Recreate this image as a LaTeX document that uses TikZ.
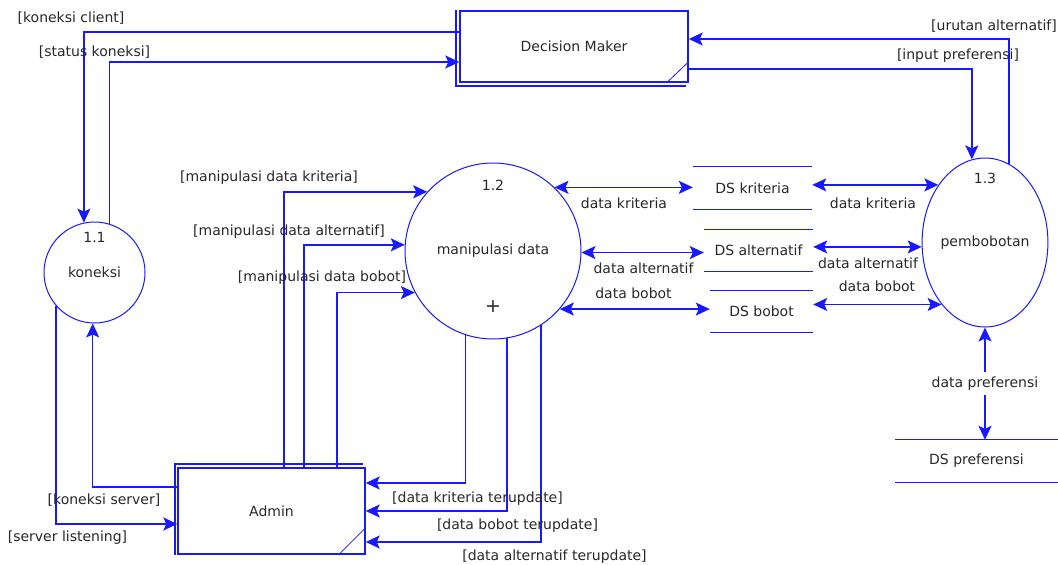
\documentclass[tikz,border=0pt]{standalone}
\usepackage{fontspec}
\setmainfont{DejaVu Sans}
\usetikzlibrary{shapes.geometric,arrows.meta,positioning,calc}
\definecolor{flowblue}{RGB}{25,25,255}
\definecolor{labelgray}{RGB}{40,40,40}
\tikzset{
    entity/.style={rectangle, draw=flowblue, line width=1.4pt, inner sep=0pt},
    process/.style={circle, draw=flowblue, line width=1pt, inner sep=0pt},
    processE/.style={ellipse, draw=flowblue, line width=1pt, inner sep=0pt},
    store/.style={rectangle, minimum height=42pt, inner sep=0pt},
    dfdline/.style={draw=flowblue, line width=1.3pt},
    outerline/.style={draw=flowblue, line width=2.2pt},
    corner/.style={draw=flowblue, line width=0.8pt},
    flow/.style={draw=flowblue, line width=1.5pt, -{Stealth[length=14pt,width=13pt,inset=3pt]}},
    bflow/.style={draw=flowblue, line width=1.5pt, {Stealth[length=14pt,width=13pt,inset=3pt]}-{Stealth[length=14pt,width=13pt,inset=3pt]}},
    flowlabel/.style={inner sep=0pt},
}

\begin{document}
\begin{tikzpicture}[x=1pt,y=-1pt, every node/.style={font=\fontsize{14}{16}\selectfont, text=labelgray}]
    \useasboundingbox (0,0) rectangle (1058,565);

    % external entities
    \node[entity, minimum width=228pt, minimum height=71pt] (dm) at (574,46.5) {Decision Maker};
    \draw[outerline] ([xshift=-3.5pt]dm.north west) -- ([xshift=-3.5pt,yshift=-3pt]dm.south west) -- ([xshift=-3pt,yshift=-3pt]dm.south east);
    \draw[corner] ([yshift=21pt]dm.south east) -- ([xshift=-22pt]dm.south east);
    \node[entity, minimum width=187pt, minimum height=86pt] (adm) at (271.5,511) {Admin};
    \draw[outerline] ([xshift=-2pt]adm.south west) -- ([xshift=-2pt,yshift=3.5pt]adm.north west) -- ([xshift=-3pt,yshift=3.5pt]adm.north east);
    \draw[corner] ([yshift=27pt]adm.south east) -- ([xshift=-27pt]adm.south east);

    % processes
    \node[process, minimum size=101pt] (kn) at (94.5,272.5) {koneksi};
    \node (kn-id) at ([yshift=35.5pt]kn.center) {1.1};
    \node[process, minimum size=176pt] (md) at (493,251) {manipulasi data};
    \node (md-id) at ([yshift=66pt]md.center) {1.2};
    \node[font=\fontsize{19}{20}\selectfont] (md-plus) at ([yshift=-56pt]md.center) {+};
    \node[processE, minimum width=120pt, minimum height=169pt] (pb) at (985,242.5) {pembobotan};
    \node (pb-id) at ([yshift=64.5pt]pb.center) {1.3};

    % data stores
    \node[store, minimum width=119pt] (dsk) at (752.5,188) {DS kriteria};
    \node[store, minimum width=109pt] (dsa) at (758.5,250.5) {DS alternatif};
    \node[store, minimum width=103pt] (dsb) at (761.5,311.5) {DS bobot};
    \node[store, minimum width=163pt] (dsp) at (976.5,461) {DS preferensi};
    \foreach \s in {dsk,dsa,dsb,dsp}
        \draw[dfdline, line width=1.1pt] (\s.north west) -- (\s.north east) (\s.south west) -- (\s.south east);

    % decision maker <-> koneksi
    \draw[flow] ([yshift=14.5pt]dm.west) -| (kn.102);
    \draw[flow] (kn.73) |- ([yshift=-15.5pt]dm.west);
    \node[flowlabel] (lbl-kc) at (71,18) {[koneksi client]};
    \node[flowlabel] (lbl-sk) at (94.5,52) {[status koneksi]};

    % admin <-> koneksi
    \draw[flow] ([yshift=24pt]adm.west) -| (kn.268);
    \draw[flow] (kn.221) |- ([yshift=-13pt]adm.west);
    \node[flowlabel] (lbl-ks) at (104,500) {[koneksi server]};
    \node[flowlabel] (lbl-sl) at (67.5,538) {[server listening]};

    % admin -> manipulasi data
    \draw[flow] ([xshift=12.5pt]adm.north) |- (md.138);
    \draw[flow] ([xshift=32.5pt]adm.north) |- (md.176);
    \draw[flow] ([xshift=65.5pt]adm.north) |- (md.208);
    \node[flowlabel] (lbl-mk) at (269,178) {[manipulasi data kriteria]};
    \node[flowlabel] (lbl-ma) at (289,232) {[manipulasi data alternatif]};
    \node[flowlabel] (lbl-mb) at (322,278) {[manipulasi data bobot]};

    % manipulasi data -> admin
    \draw[flow] (md.252) |- ([yshift=28pt]adm.east);
    \draw[flow] (md.279) |- (adm.east);
    \draw[flow] (md.303) |- ([yshift=-31pt]adm.east);
    \node[flowlabel] (lbl-kt) at (477.5,499) {[data kriteria terupdate]};
    \node[flowlabel] (lbl-bt) at (517.5,526) {[data bobot terupdate]};
    \node[flowlabel] (lbl-at) at (554.5,557) {[data alternatif terupdate]};

    % manipulasi data <-> stores
    \draw[bflow] (md.46) -- (md.46 -| dsk.west);
    \draw[bflow] (md.359) -- (md.359 -| dsa.west);
    \draw[bflow] (md.319) -- (md.319 -| dsb.west);
    \node[flowlabel] (lbl-dk1) at (624,203) {data kriteria};
    \node[flowlabel] (lbl-da1) at (643.5,268) {data alternatif};
    \node[flowlabel] (lbl-db1) at (633.5,293) {data bobot};

    % stores <-> pembobotan
    \draw[bflow] (pb.129 -| dsk.east) -- (pb.129);
    \draw[bflow] (pb.184 -| dsa.east) -- (pb.184);
    \draw[bflow] (pb.235 -| dsb.east) -- (pb.235);
    \node[flowlabel] (lbl-dk2) at (873,203) {data kriteria};
    \node[flowlabel] (lbl-da2) at (868,263) {data alternatif};
    \node[flowlabel] (lbl-db2) at (877,286) {data bobot};

    % decision maker <-> pembobotan
    \draw[flow] (pb.73) |- ([yshift=7.5pt]dm.east);
    \draw[flow] ([yshift=-22.5pt]dm.east) -| (pb.99);
    \node[flowlabel] (lbl-ua) at (994,26) {[urutan alternatif]};
    \node[flowlabel] (lbl-ip) at (958,56) {[input preferensi]};

    % pembobotan <-> DS preferensi
    \draw[bflow] (pb.south) -- node[flowlabel, fill=white, inner xsep=2pt, inner ysep=5pt] (lbl-dp) {data preferensi} (pb.south |- dsp.north);
\end{tikzpicture}
\end{document}
